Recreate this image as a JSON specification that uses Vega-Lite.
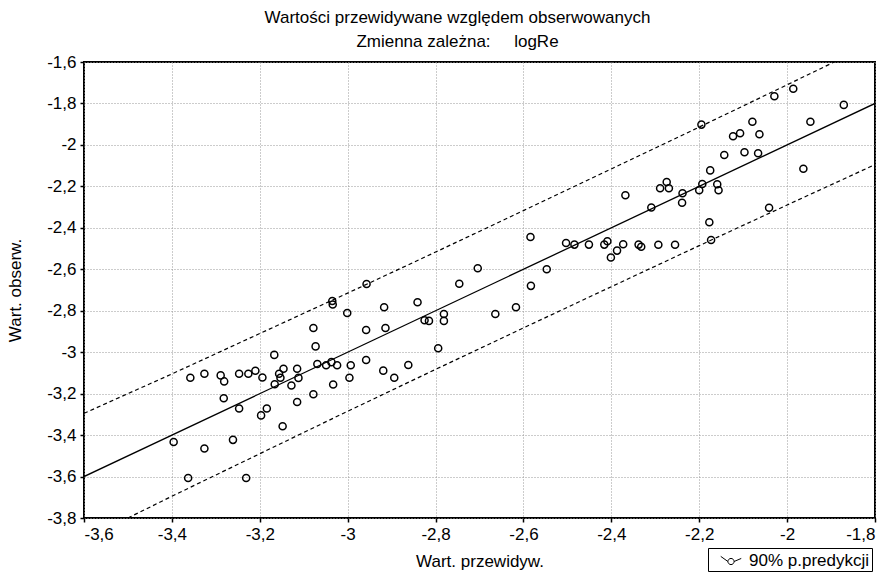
{
  "$schema": "https://vega.github.io/schema/vega-lite/v6.json",
  "width": 791,
  "height": 456,
  "autosize": {"type": "none"},
  "padding": {"left": 84, "top": 62, "right": 18, "bottom": 55},
  "background": "white",
  "title": {
    "text": ["Wartości przewidywane względem obserwowanych", "Zmienna zależna:\u00a0\u00a0\u00a0\u00a0\u00a0logRe"],
    "font": "Liberation Sans",
    "fontSize": 17,
    "fontWeight": "normal",
    "color": "black",
    "anchor": "middle",
    "offset": 2,
    "lineHeight": 24,
    "dx": -22
  },
  "datasets": {
    "pts": [
      {"x": -3.396, "y": -3.433}, {"x": -3.363, "y": -3.607}, {"x": -3.358, "y": -3.123}, {"x": -3.326, "y": -3.104},
      {"x": -3.326, "y": -3.465}, {"x": -3.289, "y": -3.112}, {"x": -3.281, "y": -3.141}, {"x": -3.282, "y": -3.222},
      {"x": -3.261, "y": -3.423}, {"x": -3.247, "y": -3.104}, {"x": -3.247, "y": -3.272}, {"x": -3.231, "y": -3.607},
      {"x": -3.226, "y": -3.104}, {"x": -3.21, "y": -3.09}, {"x": -3.194, "y": -3.122}, {"x": -3.197, "y": -3.305},
      {"x": -3.184, "y": -3.272}, {"x": -3.167, "y": -3.013}, {"x": -3.166, "y": -3.155}, {"x": -3.156, "y": -3.104},
      {"x": -3.146, "y": -3.08}, {"x": -3.153, "y": -3.123}, {"x": -3.128, "y": -3.161}, {"x": -3.115, "y": -3.08},
      {"x": -3.112, "y": -3.124}, {"x": -3.115, "y": -3.24}, {"x": -3.148, "y": -3.357}, {"x": -3.078, "y": -2.883},
      {"x": -3.073, "y": -2.972}, {"x": -3.078, "y": -3.203}, {"x": -3.069, "y": -3.057}, {"x": -3.049, "y": -3.063},
      {"x": -3.037, "y": -3.048}, {"x": -3.024, "y": -3.063}, {"x": -3.035, "y": -2.753}, {"x": -3.034, "y": -2.77},
      {"x": -3.001, "y": -2.811}, {"x": -2.993, "y": -3.063}, {"x": -2.996, "y": -3.123}, {"x": -3.033, "y": -3.156},
      {"x": -2.957, "y": -2.671}, {"x": -2.958, "y": -2.893}, {"x": -2.958, "y": -3.038}, {"x": -2.917, "y": -2.783},
      {"x": -2.914, "y": -2.883}, {"x": -2.919, "y": -3.089}, {"x": -2.894, "y": -3.123}, {"x": -2.862, "y": -3.062},
      {"x": -2.841, "y": -2.759}, {"x": -2.825, "y": -2.846}, {"x": -2.815, "y": -2.849}, {"x": -2.781, "y": -2.816},
      {"x": -2.781, "y": -2.849}, {"x": -2.794, "y": -2.981}, {"x": -2.746, "y": -2.67}, {"x": -2.704, "y": -2.595},
      {"x": -2.664, "y": -2.816}, {"x": -2.617, "y": -2.783}, {"x": -2.584, "y": -2.444}, {"x": -2.583, "y": -2.68},
      {"x": -2.547, "y": -2.6}, {"x": -2.503, "y": -2.473}, {"x": -2.484, "y": -2.481}, {"x": -2.451, "y": -2.481},
      {"x": -2.416, "y": -2.481}, {"x": -2.409, "y": -2.465}, {"x": -2.387, "y": -2.51}, {"x": -2.401, "y": -2.543},
      {"x": -2.373, "y": -2.479}, {"x": -2.368, "y": -2.243}, {"x": -2.338, "y": -2.481}, {"x": -2.332, "y": -2.491},
      {"x": -2.309, "y": -2.302}, {"x": -2.293, "y": -2.482}, {"x": -2.255, "y": -2.482}, {"x": -2.289, "y": -2.209},
      {"x": -2.274, "y": -2.179}, {"x": -2.269, "y": -2.209}, {"x": -2.238, "y": -2.233}, {"x": -2.239, "y": -2.279},
      {"x": -2.2, "y": -2.219}, {"x": -2.193, "y": -2.189}, {"x": -2.177, "y": -2.373}, {"x": -2.173, "y": -2.459},
      {"x": -2.175, "y": -2.123}, {"x": -2.159, "y": -2.19}, {"x": -2.156, "y": -2.219}, {"x": -2.195, "y": -1.902},
      {"x": -2.143, "y": -2.049}, {"x": -2.123, "y": -1.958}, {"x": -2.107, "y": -1.944}, {"x": -2.097, "y": -2.035},
      {"x": -2.079, "y": -1.888}, {"x": -2.066, "y": -2.04}, {"x": -2.063, "y": -1.949}, {"x": -2.041, "y": -2.303},
      {"x": -2.029, "y": -1.765}, {"x": -1.986, "y": -1.729}, {"x": -1.963, "y": -2.115}, {"x": -1.947, "y": -1.888},
      {"x": -1.871, "y": -1.807}
    ],
    "fit": [
      {"x": -3.6, "y": -3.6}, {"x": -1.8, "y": -1.8}
    ],
    "band": [
      {"x": -3.6, "y": -3.295, "side": "upper"}, {"x": -3.4, "y": -3.105, "side": "upper"}, {"x": -3.2, "y": -2.91, "side": "upper"},
      {"x": -3.0, "y": -2.715, "side": "upper"}, {"x": -2.8, "y": -2.517, "side": "upper"}, {"x": -2.6, "y": -2.317, "side": "upper"},
      {"x": -2.4, "y": -2.116, "side": "upper"}, {"x": -2.2, "y": -1.914, "side": "upper"}, {"x": -2.0, "y": -1.71, "side": "upper"},
      {"x": -1.8, "y": -1.505, "side": "upper"},
      {"x": -3.6, "y": -3.905, "side": "lower"}, {"x": -3.4, "y": -3.695, "side": "lower"}, {"x": -3.2, "y": -3.49, "side": "lower"},
      {"x": -3.0, "y": -3.285, "side": "lower"}, {"x": -2.8, "y": -3.083, "side": "lower"}, {"x": -2.6, "y": -2.883, "side": "lower"},
      {"x": -2.4, "y": -2.684, "side": "lower"}, {"x": -2.2, "y": -2.486, "side": "lower"}, {"x": -2.0, "y": -2.29, "side": "lower"},
      {"x": -1.8, "y": -2.095, "side": "lower"}
    ]
  },
  "layer": [
    {
      "data": {"name": "band"},
      "mark": {"type": "line", "color": "black", "strokeWidth": 1.2, "strokeDash": [4, 3], "clip": true},
      "encoding": {
        "x": {"field": "x", "type": "quantitative"},
        "y": {"field": "y", "type": "quantitative"},
        "detail": {"field": "side"}
      }
    },
    {
      "data": {"name": "fit"},
      "mark": {"type": "line", "color": "black", "strokeWidth": 1.3, "clip": true},
      "encoding": {
        "x": {"field": "x", "type": "quantitative"},
        "y": {"field": "y", "type": "quantitative"}
      }
    },
    {
      "data": {"name": "pts"},
      "mark": {"type": "point", "shape": "circle", "filled": false, "size": 50, "strokeWidth": 1.5, "opacity": 1, "clip": true},
      "encoding": {
        "x": {
          "field": "x", "type": "quantitative",
          "scale": {"domain": [-3.6, -1.8], "nice": false, "zero": false},
          "axis": {
            "title": "Wart. przewidyw.",
            "values": [-3.6, -3.4, -3.2, -3.0, -2.8, -2.6, -2.4, -2.2, -2.0, -1.8],
            "labelExpr": "replace(replace(format(datum.value, '.1~f'), '.', ','), '\u2212', '-')",
            "titlePadding": 11
          }
        },
        "y": {
          "field": "y", "type": "quantitative",
          "scale": {"domain": [-3.8, -1.6], "nice": false, "zero": false},
          "axis": {
            "title": "Wart. obserw.",
            "values": [-3.8, -3.6, -3.4, -3.2, -3.0, -2.8, -2.6, -2.4, -2.2, -2.0, -1.8, -1.6],
            "labelExpr": "replace(replace(format(datum.value, '.1~f'), '.', ','), '\u2212', '-')",
            "titlePadding": 22
          }
        },
        "color": {
          "datum": "90% p.predykcji",
          "scale": {"range": ["black"]},
          "legend": {
            "title": null,
            "orient": "none",
            "legendX": 624,
            "legendY": 486,
            "strokeColor": "black",
            "fillColor": "white",
            "padding": 2,
            "symbolOffset": 10,
            "labelOffset": 7,
            "labelFont": "Liberation Sans",
            "labelFontSize": 17,
            "labelColor": "black",
            "labelExpr": "datum.label + '\u00a0\u00a0'",
            "symbolType": "M-1,-0.45L-0.3,0.05M0.3,0.05L1,-0.25M-0.3,0.05a0.3,0.3 0 1,0 0.6,0a0.3,0.3 0 1,0 -0.6,0",
            "symbolSize": 420,
            "symbolStrokeWidth": 1,
            "symbolStrokeColor": "black",
            "symbolFillColor": "transparent",
            "encode": {"legend": {"update": {"strokeWidth": {"value": 1.5}}}}
          }
        }
      }
    }
  ],
  "config": {
    "view": {"stroke": "black", "strokeWidth": 2},
    "axis": {
      "domain": false,
      "grid": true,
      "gridColor": "#999999",
      "gridDash": [1, 2],
      "gridWidth": 1,
      "ticks": true,
      "tickColor": "black",
      "tickSize": 4,
      "tickWidth": 1.5,
      "labelFont": "Liberation Sans",
      "labelFontSize": 17,
      "labelColor": "black",
      "labelPadding": 4,
      "titleFont": "Liberation Sans",
      "titleFontSize": 17,
      "titleFontWeight": "normal",
      "titleColor": "black"
    }
  }
}
